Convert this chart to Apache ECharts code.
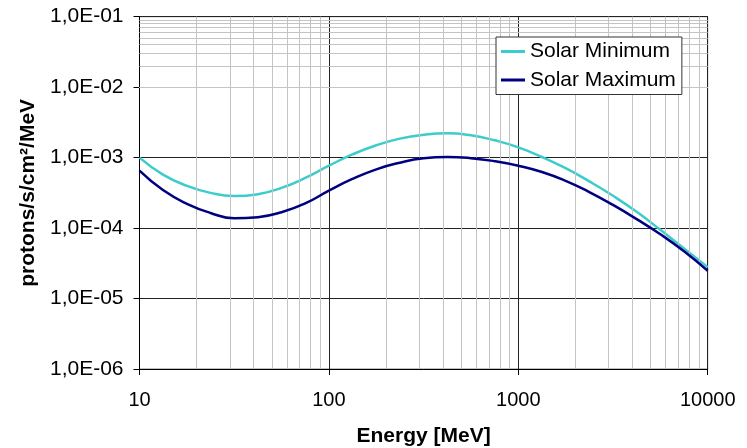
<!DOCTYPE html>
<html>
<head>
<meta charset="utf-8">
<title>Proton spectrum</title>
<script src="https://cdn.jsdelivr.net/npm/echarts@6/dist/echarts.min.js"></script>
<style>
  html, body { margin: 0; padding: 0; background: #ffffff; }
  #chart { width: 747px; height: 448px; }
</style>
</head>
<body>
<div id="chart"></div>
<script>
// Energies in MeV (eight steps per decade)
const energy = [10, 13.3, 17.8, 23.7, 31.6, 42.2, 56.2, 75, 100, 133, 178, 237, 316, 422, 562, 750, 1000, 1334, 1778, 2371, 3162, 4217, 5623, 7499, 10000];

// Differential flux, protons/s/cm2/MeV
const solarMinimum = [1.0e-3, 5.75e-4, 3.98e-4, 3.16e-4, 2.85e-4, 3.03e-4, 3.72e-4, 5.15e-4, 7.67e-4, 1.11e-3, 1.50e-3, 1.86e-3, 2.11e-3, 2.21e-3, 2.07e-3, 1.76e-3, 1.40e-3, 1.02e-3, 7.08e-4, 4.60e-4, 2.87e-4, 1.70e-4, 9.44e-5, 5.13e-5, 2.79e-5];
const solarMaximum = [6.52e-4, 3.46e-4, 2.21e-4, 1.64e-4, 1.38e-4, 1.43e-4, 1.68e-4, 2.24e-4, 3.40e-4, 4.98e-4, 6.82e-4, 8.47e-4, 9.77e-4, 1.02e-3, 9.82e-4, 8.91e-4, 7.67e-4, 6.24e-4, 4.68e-4, 3.25e-4, 2.13e-4, 1.34e-4, 8.17e-5, 4.68e-5, 2.48e-5];

// Axis ticks
const xTicks = [10, 100, 1000, 10000];
const xTickLabels = ['10', '100', '1000', '10000'];
const yTicks = [1e-6, 1e-5, 1e-4, 1e-3, 1e-2, 1e-1];
const yTickLabels = ['1,0E-06', '1,0E-05', '1,0E-04', '1,0E-03', '1,0E-02', '1,0E-01'];

// Intermediate gridlines at 2..9 of every decade
const minorSteps = [2, 3, 4, 5, 6, 7, 8, 9];
const xDecades = [10, 100, 1000];
const yDecades = [1e-6, 1e-5, 1e-4, 1e-3, 1e-2];

const xMinor = [];
xDecades.forEach(d => minorSteps.forEach(m => xMinor.push(d * m)));
const yMinor = [];
yDecades.forEach(d => minorSteps.forEach(m => yMinor.push(d * m)));

function tickLabel(ticks, labels, v) {
  const e = Math.round(Math.log10(v));
  const i = ticks.findIndex(t => Math.round(Math.log10(t)) === e);
  return i >= 0 ? labels[i] : '';
}

const font = 'Liberation Sans, Arial, Helvetica, sans-serif';

const chart = echarts.init(document.getElementById('chart'), null, { renderer: 'canvas' });

chart.setOption({
  backgroundColor: '#ffffff',
  animation: false,
  textStyle: { fontFamily: font },
  grid: {
    left: 139.5, right: 39.3, top: 16.7, bottom: 79,
    containLabel: false,
    outerBoundsMode: 'none',
    show: true, backgroundColor: '#ffffff', borderColor: '#808080', borderWidth: 1
  },
  legend: {
    z: 20,
    orient: 'vertical',
    left: 496,
    top: 37,
    padding: [4, 6, 4, 5],
    itemGap: 7.5,
    itemWidth: 24,
    itemHeight: 3,
    icon: 'rect',
    backgroundColor: '#ffffff',
    borderColor: '#333333',
    borderWidth: 1,
    borderRadius: 0,
    textStyle: { fontSize: 21, color: '#000000', fontFamily: font },
    data: ['Solar Minimum', 'Solar Maximum']
  },
  xAxis: {
    type: 'log',
    logBase: 10,
    min: 10,
    max: 10000,
    interval: 1,
    name: 'Energy [MeV]',
    nameLocation: 'middle',
    nameGap: 57,
    nameTextStyle: { fontSize: 21, fontWeight: 'bold', color: '#000000', fontFamily: font },
    axisLine: { show: true, lineStyle: { color: '#000000', width: 1 } },
    axisTick: { show: true, inside: false, length: 6, lineStyle: { color: '#000000' } },
    axisLabel: { fontSize: 20, color: '#000000', margin: 21, fontFamily: font,
      formatter: v => tickLabel(xTicks, xTickLabels, v) },
    splitLine: { show: true, lineStyle: { color: '#222222', width: 1 } },
    minorTick: { show: false },
    minorSplitLine: { show: false }
  },
  yAxis: {
    type: 'log',
    logBase: 10,
    min: 1e-6,
    max: 1e-1,
    interval: 1,
    name: 'protons/s/cm²/MeV',
    nameLocation: 'middle',
    nameGap: 100,
    nameRotate: 90,
    nameTextStyle: { fontSize: 21, fontWeight: 'bold', color: '#000000', fontFamily: font },
    axisLine: { show: true, lineStyle: { color: '#000000', width: 1 } },
    axisTick: { show: true, inside: false, length: 6, lineStyle: { color: '#000000' } },
    axisLabel: { fontSize: 21, color: '#000000', margin: 16, fontFamily: font,
      formatter: v => tickLabel(yTicks, yTickLabels, v) },
    splitLine: { show: true, lineStyle: { color: '#222222', width: 1 } },
    minorTick: { show: false },
    minorSplitLine: { show: false }
  },
  series: [
    {
      name: 'grid',
      type: 'line',
      data: [],
      z: 1,
      silent: true,
      markLine: {
        silent: true,
        symbol: ['none', 'none'],
        label: { show: false },
        animation: false,
        lineStyle: { color: '#c4c4c4', width: 1, type: 'solid' },
        emphasis: { disabled: true },
        data: xMinor.map(v => ({ xAxis: v })).concat(yMinor.map(v => ({ yAxis: v })))
      }
    },
    {
      name: 'Solar Minimum',
      type: 'line',
      z: 4,
      smooth: 0.5,
      showSymbol: false,
      symbol: 'none',
      color: '#3ccccc',
      lineStyle: { color: '#3ccccc', width: 2.5 },
      data: energy.map((e, i) => [e, solarMinimum[i]])
    },
    {
      name: 'Solar Maximum',
      type: 'line',
      z: 5,
      smooth: 0.5,
      showSymbol: false,
      symbol: 'none',
      color: '#000080',
      lineStyle: { color: '#000080', width: 2.5 },
      data: energy.map((e, i) => [e, solarMaximum[i]])
    }
  ]
});
</script>
</body>
</html>
